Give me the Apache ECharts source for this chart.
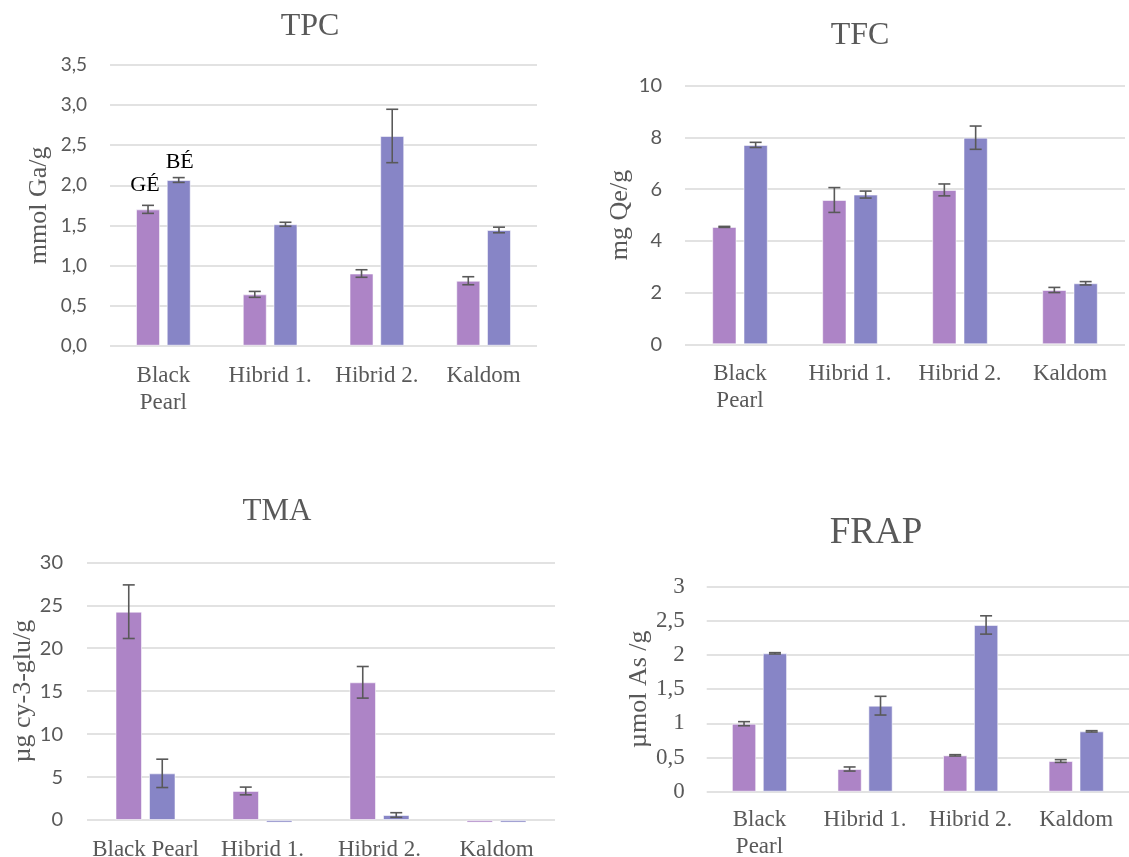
<!DOCTYPE html>
<html>
<head>
<meta charset="utf-8">
<script src="https://cdn.jsdelivr.net/npm/echarts@6/dist/echarts.min.js"></script>
<style>
  html, body { margin: 0; padding: 0; background: #ffffff; }
  #chart { width: 1129px; height: 857px; }
</style>
</head>
<body>
<div id="chart"></div>
<script>
// Varieties shown on every panel
const categories = ['Black Pearl', 'Hibrid 1.', 'Hibrid 2.', 'Kaldom'];

// TPC (mmol Ga/g)
const tpcGE = [1.70, 0.64, 0.90, 0.81];
const tpcGEErr = [0.05, 0.037, 0.047, 0.05];
const tpcBE = [2.066, 1.514, 2.615, 1.443];
const tpcBEErr = [0.03, 0.025, 0.333, 0.035];

// TFC (mg Qe/g)
const tfcGE = [4.54, 5.58, 5.97, 2.10];
const tfcGEErr = [0.02, 0.48, 0.23, 0.10];
const tfcBE = [7.71, 5.79, 7.99, 2.36];
const tfcBEErr = [0.10, 0.135, 0.45, 0.065];

// TMA (µg cy-3-glu/g)
const tmaGE = [24.25, 3.38, 16.03, -0.3];
const tmaGEErr = [3.12, 0.45, 1.84, 0];
const tmaBE = [5.43, -0.3, 0.58, -0.3];
const tmaBEErr = [1.65, 0, 0.27, 0];

// FRAP (µmol As /g)
const frapGE = [0.995, 0.332, 0.532, 0.449];
const frapGEErr = [0.03, 0.03, 0.01, 0.02];
const frapBE = [2.025, 1.259, 2.44, 0.883];
const frapBEErr = [0.01, 0.137, 0.134, 0.01];

// Series names for the two extracts
const seriesNames = ['GÉ', 'BÉ'];

const GE_COLOR = '#AD84C6';
const BE_COLOR = '#8785C6';
const TEXT_COLOR = '#595959';
const GRID_COLOR = '#D9D9D9';
const SERIF = '"Liberation Serif", "Times New Roman", serif';
const SANS = 'Lato, "Open Sans", sans-serif';

const panels = [
  { title: 'TPC', titleX: 310, titleY: 27, titleSize: 32,
    grid: { left: 110, top: 65, width: 427, height: 280.7 },
    yName: 'mmol Ga/g', nameGap: 58, min: 0, max: 3.5, interval: 0.5,
    tickFmt: v => v.toFixed(1).replace('.', ','), tickFont: SANS, tickSize: 19, tickMargin: 23,
    barWidth: 24, gapPx: 6.7, wrap: true, labelMargin: 17,
    ge: tpcGE, geErr: tpcGEErr, be: tpcBE, beErr: tpcBEErr, markFirst: true },
  { title: 'TFC', titleX: 860, titleY: 36, titleSize: 32,
    grid: { left: 685, top: 85.7, width: 440, height: 258.6 },
    yName: 'mg Qe/g', nameGap: 52, min: 0, max: 10, interval: 2,
    tickFmt: v => String(v), tickFont: SANS, tickSize: 20, tickMargin: 23,
    barWidth: 24.3, gapPx: 7, wrap: true, labelMargin: 16,
    ge: tfcGE, geErr: tfcGEErr, be: tfcBE, beErr: tfcBEErr },
  { title: 'TMA', titleX: 277, titleY: 512, titleSize: 31,
    grid: { left: 87, top: 562.3, width: 468, height: 257.7 },
    yName: 'µg cy-3-glu/g', nameGap: 51, min: 0, max: 30, interval: 5,
    tickFmt: v => String(v), tickFont: SANS, tickSize: 20, tickMargin: 24,
    barWidth: 26.5, gapPx: 7, wrap: false, labelMargin: 16,
    ge: tmaGE, geErr: tmaGEErr, be: tmaBE, beErr: tmaBEErr },
  { title: 'FRAP', titleX: 876, titleY: 533, titleSize: 37,
    grid: { left: 706.7, top: 586.7, width: 422.3, height: 205 },
    yName: 'µmol As /g', nameGap: 54, min: 0, max: 3, interval: 0.5,
    tickFmt: v => String(v).replace('.', ','), tickFont: SERIF, tickSize: 23, tickMargin: 22,
    barWidth: 24.3, gapPx: 6.6, wrap: true, labelMargin: 15,
    ge: frapGE, geErr: frapGEErr, be: frapBE, beErr: frapBEErr }
];

const grids = [], xAxes = [], yAxes = [], series = [], graphics = [];

panels.forEach((p, i) => {
  // fixed plot rectangles; labels may run past the canvas edge
  grids.push(Object.assign({ containLabel: false, outerBoundsMode: 'none' }, p.grid));

  xAxes.push({
    type: 'category', gridIndex: i, data: categories,
    axisLine: { show: false }, axisTick: { show: false },
    axisLabel: {
      color: TEXT_COLOR, fontFamily: SERIF, fontSize: 23, lineHeight: 27, margin: p.labelMargin,
      interval: 0, hideOverlap: false,
      // long two-word names break onto a second line in the narrower panels
      formatter: v => (p.wrap ? v.replace(/ (?=[A-Za-z]{3,})/, '\n') : v)
    }
  });

  yAxes.push({
    type: 'value', gridIndex: i, min: p.min, max: p.max, interval: p.interval,
    name: p.yName, nameLocation: 'middle', nameGap: p.nameGap,
    nameTextStyle: { color: TEXT_COLOR, fontFamily: SERIF, fontSize: 26 },
    axisLine: { show: false }, axisTick: { show: false },
    splitLine: { show: true, lineStyle: { color: GRID_COLOR, width: 1.5 } },
    axisLabel: { color: TEXT_COLOR, fontFamily: p.tickFont, fontSize: p.tickSize,
                 margin: p.tickMargin, formatter: p.tickFmt }
  });

  const gapPct = (p.gapPx / p.barWidth * 100).toFixed(1) + '%';
  const sets = [
    { name: seriesNames[0], vals: p.ge, errs: p.geErr, color: GE_COLOR, side: -1 },
    { name: seriesNames[1], vals: p.be, errs: p.beErr, color: BE_COLOR, side: 1 }
  ];

  sets.forEach((s, k) => {
    const data = s.vals.map((v, j) => {
      if (p.markFirst && j === 0) {
        return {
          value: v,
          label: {
            show: true, position: 'top', formatter: s.name,
            color: '#000000', fontFamily: SERIF, fontSize: 22,
            distance: k === 0 ? 13 : 7,
            offset: k === 0 ? [-3, 0] : [1, 0]
          }
        };
      }
      return v;
    });
    series.push({
      type: 'bar', name: s.name, xAxisIndex: i, yAxisIndex: i,
      barWidth: p.barWidth, barGap: gapPct, clip: false,
      itemStyle: { color: s.color, borderColor: 'rgba(255,255,255,0.55)', borderWidth: 1 },
      data: data, z: 2
    });
  });

  // Error bars drawn on top of each bar, offset to the bar's slot in the category
  sets.forEach(s => {
    const half = (p.barWidth + p.gapPx) / 2;
    series.push({
      type: 'custom', xAxisIndex: i, yAxisIndex: i, z: 5, clip: false,
      data: s.vals.map((v, j) => [j, v, s.errs[j]]),
      encode: { x: 0, y: 1 },
      renderItem: (params, api) => {
        const err = api.value(2);
        if (!err) return null;
        const cat = api.value(0), v = api.value(1);
        const top = api.coord([cat, v + err]);
        const bot = api.coord([cat, v - err]);
        const x = top[0] + s.side * half;
        const cap = 6;
        const style = { stroke: '#595959', lineWidth: 1.6 };
        return {
          type: 'group',
          children: [
            { type: 'line', shape: { x1: x, y1: top[1], x2: x, y2: bot[1] }, style },
            { type: 'line', shape: { x1: x - cap, y1: top[1], x2: x + cap, y2: top[1] }, style },
            { type: 'line', shape: { x1: x - cap, y1: bot[1], x2: x + cap, y2: bot[1] }, style }
          ]
        };
      }
    });
  });

  graphics.push({
    type: 'text', x: p.titleX, y: p.titleY,
    style: { text: p.title, fill: TEXT_COLOR, font: p.titleSize + 'px ' + SERIF,
             textAlign: 'center', textVerticalAlign: 'middle' }
  });
});

const chart = echarts.init(document.getElementById('chart'), null, { renderer: 'canvas' });
chart.setOption({
  backgroundColor: '#ffffff',
  animation: false,
  grid: grids,
  xAxis: xAxes,
  yAxis: yAxes,
  series: series,
  graphic: graphics
});
</script>
</body>
</html>
